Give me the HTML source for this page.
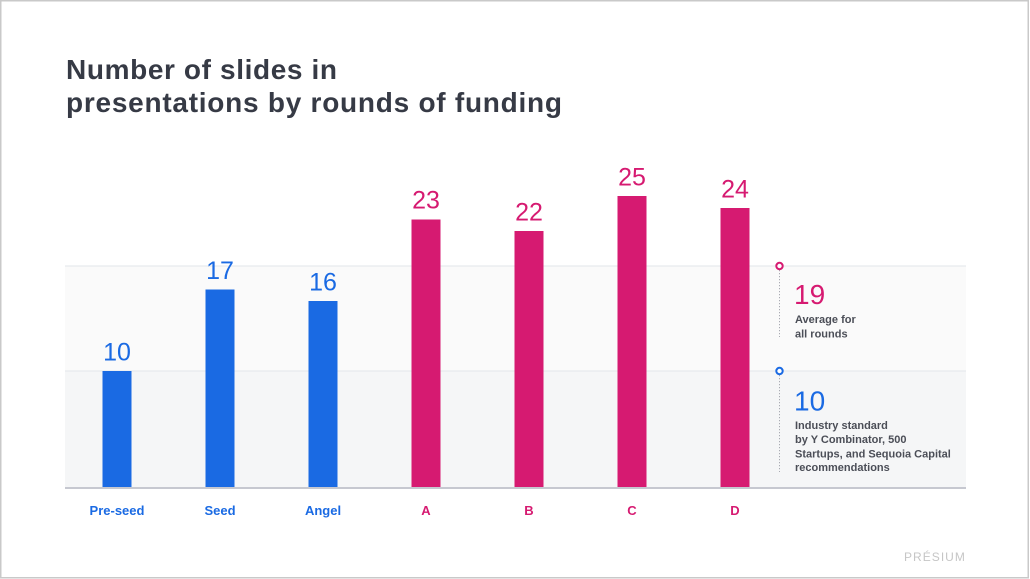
<!DOCTYPE html>
<html>
<head>
<meta charset="utf-8">
<style>
  html, body { margin: 0; padding: 0; background: #ffffff; }
  body { width: 1030px; height: 579px; overflow: hidden; }
  svg { display: block; }
  text { font-family: "Liberation Sans", Arial, sans-serif; }
</style>
</head>
<body>
<svg width="1030" height="579" viewBox="0 0 1030 579" xmlns="http://www.w3.org/2000/svg">
  <!-- outer border -->
  <rect x="0.75" y="0.75" width="1027.5" height="577" fill="#ffffff" stroke="#c9c9c9" stroke-width="1.5"/>

  <!-- title -->
  <text x="66" y="79" font-size="28" font-weight="bold" fill="#363a45" textLength="271" lengthAdjust="spacing">Number of slides in</text>
  <text x="66" y="112" font-size="28" font-weight="bold" fill="#363a45" textLength="496" lengthAdjust="spacing">presentations by rounds of funding</text>

  <!-- plot bands -->
  <rect x="65" y="266" width="901" height="105" fill="#fafafa"/>
  <rect x="65" y="371" width="901" height="117" fill="#f5f6f7"/>
  <line x1="65" y1="266" x2="966" y2="266" stroke="#e7e9ed" stroke-width="1.2"/>
  <line x1="65" y1="371" x2="966" y2="371" stroke="#e7e9ed" stroke-width="1.2"/>

  <!-- bars -->
  <g fill="#1a6ae3">
    <rect x="102.5" y="371" width="29" height="117"/>
    <rect x="205.5" y="289.5" width="29" height="198.5"/>
    <rect x="308.5" y="301" width="29" height="187"/>
  </g>
  <g fill="#d61a71">
    <rect x="411.5" y="219.5" width="29" height="268.5"/>
    <rect x="514.5" y="231" width="29" height="257"/>
    <rect x="617.5" y="196" width="29" height="292"/>
    <rect x="720.5" y="208" width="29" height="280"/>
  </g>

  <!-- baseline -->
  <line x1="65" y1="488" x2="966" y2="488" stroke="#c6c8d0" stroke-width="2"/>

  <!-- value labels -->
  <g font-size="25" text-anchor="middle">
    <text x="117" y="360.5" fill="#1a6ae3">10</text>
    <text x="220" y="279" fill="#1a6ae3">17</text>
    <text x="323" y="290.5" fill="#1a6ae3">16</text>
    <text x="426" y="208.5" fill="#d61a71">23</text>
    <text x="529" y="220.5" fill="#d61a71">22</text>
    <text x="632" y="185.5" fill="#d61a71">25</text>
    <text x="735" y="197.5" fill="#d61a71">24</text>
  </g>

  <!-- category labels -->
  <g font-size="13" font-weight="bold" text-anchor="middle">
    <text x="117" y="515" fill="#1a6ae3">Pre-seed</text>
    <text x="220" y="515" fill="#1a6ae3">Seed</text>
    <text x="323" y="515" fill="#1a6ae3">Angel</text>
    <text x="426" y="515" fill="#d61a71">A</text>
    <text x="529" y="515" fill="#d61a71">B</text>
    <text x="632" y="515" fill="#d61a71">C</text>
    <text x="735" y="515" fill="#d61a71">D</text>
  </g>

  <!-- annotation: average -->
  <line x1="779.5" y1="270" x2="779.5" y2="337" stroke="#a9abb3" stroke-width="1" stroke-dasharray="1.2 1.8"/>
  <circle cx="779.5" cy="266" r="3.2" fill="#ffffff" stroke="#d61a71" stroke-width="2"/>
  <text x="794" y="304" font-size="28" fill="#d61a71">19</text>
  <g font-size="11" font-weight="bold" fill="#4b4e57">
    <text x="795" y="323">Average for</text>
    <text x="795" y="337.5">all rounds</text>
  </g>

  <!-- annotation: industry standard -->
  <line x1="779.5" y1="375" x2="779.5" y2="472" stroke="#a9abb3" stroke-width="1" stroke-dasharray="1.2 1.8"/>
  <circle cx="779.5" cy="371" r="3.2" fill="#ffffff" stroke="#1a6ae3" stroke-width="2"/>
  <text x="794" y="410.5" font-size="28" fill="#1a6ae3">10</text>
  <g font-size="11" font-weight="bold" fill="#4b4e57">
    <text x="795" y="429">Industry standard</text>
    <text x="795" y="443">by Y Combinator, 500</text>
    <text x="795" y="457.5">Startups, and Sequoia Capital</text>
    <text x="795" y="471">recommendations</text>
  </g>

  <!-- brand -->
  <text x="904" y="561" font-size="12" fill="#c6c6c6" letter-spacing="1.1" textLength="62" lengthAdjust="spacing">PRÉSIUM</text>
</svg>
</body>
</html>
